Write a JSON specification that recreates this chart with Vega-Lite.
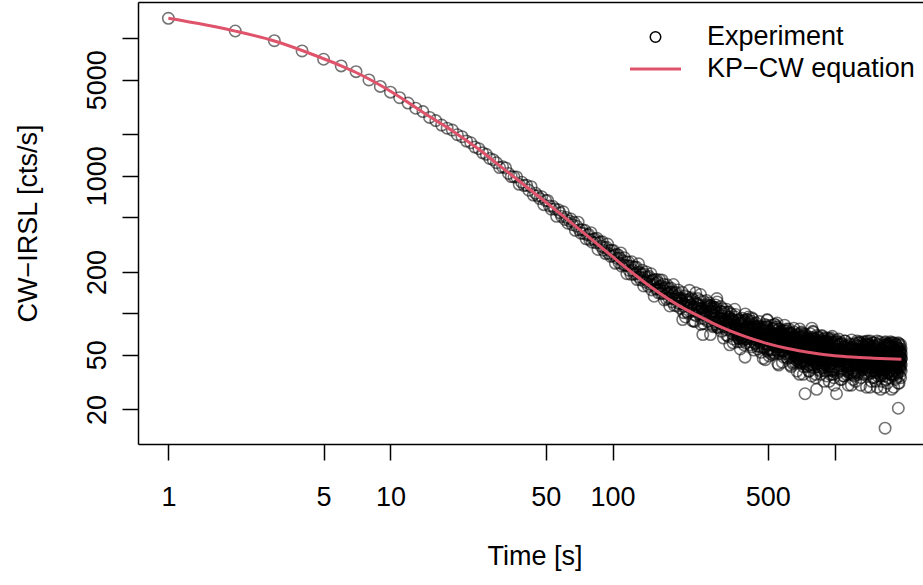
{
"$schema": "https://vega.github.io/schema/vega-lite/v6.json",
"width": 785, "height": 442,
"autosize": {"type": "none"},
"padding": {"left": 138, "top": 2, "right": 0, "bottom": 141},
"background": "white",
"config": {
  "view": {"stroke": null},
  "font": "Liberation Sans",
  "axis": {"grid": false, "labelFont": "Liberation Sans", "titleFont": "Liberation Sans", "labelFontSize": 27, "titleFontSize": 27, "titleFontWeight": "normal", "labelColor": "#000000", "titleColor": "#000000", "domainColor": "#000000", "tickColor": "#000000", "domainWidth": 1.5, "tickWidth": 1.5, "tickSize": 16, "labelOverlap": false, "labelFlush": false}
},
"datasets": {
"fit": [{"t":1,"v":13970},{"t":2,"v":11280},{"t":3,"v":9550},{"t":4,"v":8150},{"t":5,"v":7100},{"t":6,"v":6300},{"t":7,"v":5640},{"t":8,"v":5060},{"t":9,"v":4560},{"t":10,"v":4120},{"t":12,"v":3420},{"t":14,"v":2900},{"t":16,"v":2530},{"t":18,"v":2250},{"t":20,"v":2009},{"t":25,"v":1560},{"t":30,"v":1236},{"t":35,"v":1016},{"t":40,"v":858},{"t":50,"v":645},{"t":60,"v":509},{"t":70,"v":415},{"t":80,"v":348},{"t":100,"v":258},{"t":120,"v":203},{"t":150,"v":154},{"t":200,"v":113.3},{"t":250,"v":93.8},{"t":300,"v":81},{"t":400,"v":67.4},{"t":500,"v":60.2},{"t":600,"v":55.9},{"t":700,"v":53.2},{"t":800,"v":51.5},{"t":1000,"v":49.2},{"t":1200,"v":48.1},{"t":1500,"v":47.2},{"t":2000,"v":46.3}],
"experiment": [
{"t":1,"v":13970},{"t":2,"v":11300},{"t":3,"v":9610},{"t":4,"v":8090},{"t":5,"v":7040},{"t":6,"v":6300},{"t":7,"v":5720},{"t":8,"v":4980},{"t":9,"v":4470},{"t":10,"v":4060},
{"t":11,"v":3700},{"t":12,"v":3380},{"t":13,"v":3100},{"t":14,"v":2930},{"t":15,"v":2660},{"t":16,"v":2520},{"t":17,"v":2340},{"t":18,"v":2220},{"t":19,"v":2150},{"t":20,"v":1990},
{"t":21,"v":1925},{"t":22,"v":1790},{"t":23,"v":1740},{"t":24,"v":1618},{"t":25,"v":1575},{"t":26,"v":1470},{"t":27,"v":1432},{"t":28,"v":1336},{"t":29,"v":1310},
{"t":30,"v":1246},{"t":31,"v":1148},{"t":32,"v":1163},{"t":33,"v":1141},{"t":34,"v":1040},{"t":35,"v":987},{"t":36,"v":982},{"t":37,"v":981},{"t":38,"v":867},{"t":39,"v":899},
{"t":40,"v":849},{"t":41,"v":855},{"t":42,"v":785},{"t":43,"v":833},{"t":44,"v":724},{"t":45,"v":747},{"t":46,"v":715},{"t":47,"v":683},{"t":48,"v":704},{"t":49,"v":617},
{"t":50,"v":660},{"t":51,"v":662},{"t":52,"v":604},{"t":53,"v":572},{"t":54,"v":598},{"t":55,"v":574},{"t":56,"v":507},{"t":57,"v":566},{"t":58,"v":538},{"t":59,"v":506},
{"t":60,"v":547},{"t":61,"v":481},{"t":62,"v":498},{"t":63,"v":452},{"t":64,"v":469},{"t":65,"v":485},{"t":66,"v":441},{"t":67,"v":459},{"t":68,"v":401},{"t":69,"v":430},
{"t":70,"v":460},{"t":71,"v":405},{"t":72,"v":382},{"t":73,"v":405},{"t":74,"v":381},{"t":75,"v":401},{"t":76,"v":348},{"t":77,"v":371},{"t":78,"v":375},{"t":79,"v":342},
{"t":80,"v":386},{"t":81,"v":329},{"t":82,"v":345},{"t":83,"v":349},{"t":84,"v":326},{"t":85,"v":352},{"t":86,"v":291},{"t":87,"v":325},{"t":88,"v":331},{"t":89,"v":307},
{"t":90,"v":331},{"t":91,"v":288},{"t":92,"v":300},{"t":93,"v":272},{"t":94,"v":302},{"t":95,"v":319},{"t":96,"v":273},{"t":97,"v":286},{"t":98,"v":259},{"t":99,"v":288},
{"t":100,"v":261},{"t":101,"v":286},{"t":102,"v":265},{"t":103,"v":231},{"t":104,"v":269},{"t":105,"v":251},{"t":106,"v":266},{"t":107,"v":233},{"t":108,"v":252},{"t":109,"v":275},
{"t":110,"v":220},{"t":111,"v":241},{"t":112,"v":225},{"t":113,"v":254},{"t":114,"v":224},{"t":115,"v":237},{"t":116,"v":194},{"t":117,"v":222},{"t":118,"v":236},{"t":119,"v":205},
{"t":120,"v":221},{"t":121,"v":192},{"t":122,"v":237},{"t":123,"v":206},{"t":124,"v":217},{"t":125,"v":192},{"t":126,"v":217},{"t":127,"v":195},{"t":128,"v":217},{"t":129,"v":176},
{"t":130,"v":198},{"t":131,"v":229},{"t":132,"v":183},{"t":133,"v":198},{"t":134,"v":175},{"t":135,"v":192},{"t":136,"v":206},{"t":137,"v":180},{"t":138,"v":158},{"t":139,"v":193},
{"t":140,"v":184},{"t":141,"v":168},{"t":142,"v":200},{"t":143,"v":173},{"t":144,"v":183},{"t":145,"v":157},{"t":146,"v":186},{"t":147,"v":171},{"t":148,"v":162},{"t":149,"v":194},
{"t":150,"v":148},{"t":151,"v":172},{"t":152,"v":175},{"t":153,"v":161},{"t":154,"v":133},{"t":155,"v":176},{"t":156,"v":165},{"t":157,"v":150},{"t":158,"v":176},{"t":159,"v":152},
{"t":160,"v":168},{"t":161,"v":141},{"t":162,"v":156},{"t":163,"v":175},{"t":164,"v":148},{"t":165,"v":158},{"t":166,"v":139},{"t":167,"v":175},{"t":168,"v":140},{"t":169,"v":151},
{"t":170,"v":163},{"t":171,"v":125},{"t":172,"v":153},{"t":173,"v":144},{"t":174,"v":155},{"t":175,"v":127},{"t":176,"v":161},{"t":177,"v":138},{"t":178,"v":141},{"t":179,"v":129},
{"t":180,"v":151},{"t":181,"v":113},{"t":182,"v":142},{"t":183,"v":153},{"t":184,"v":129},{"t":185,"v":143},{"t":186,"v":121},{"t":187,"v":137},{"t":188,"v":162},{"t":189,"v":127},
{"t":190,"v":114},{"t":191,"v":141},{"t":192,"v":131},{"t":193,"v":127},{"t":194,"v":142},{"t":195,"v":113},{"t":196,"v":134},{"t":197,"v":148},{"t":198,"v":118},{"t":199,"v":129},
{"t":200,"v":129},{"t":202,"v":109},{"t":204,"v":123},{"t":206,"v":142},{"t":208,"v":117},{"t":210,"v":112},{"t":212,"v":134},{"t":214,"v":125},{"t":216,"v":103},{"t":218,"v":131},
{"t":220,"v":120},{"t":222,"v":147},{"t":224,"v":111},{"t":226,"v":115},{"t":228,"v":105},{"t":230,"v":126},{"t":232,"v":88},{"t":234,"v":111},{"t":236,"v":120},{"t":238,"v":96},
{"t":240,"v":116},{"t":242,"v":128},{"t":244,"v":108},{"t":246,"v":103},{"t":248,"v":124},{"t":250,"v":83},{"t":252,"v":104},{"t":254,"v":109},{"t":256,"v":98},{"t":258,"v":122},
{"t":260,"v":91},{"t":262,"v":105},{"t":264,"v":95},{"t":266,"v":112},{"t":268,"v":87},{"t":270,"v":108},{"t":272,"v":115},{"t":274,"v":101},{"t":276,"v":70},{"t":278,"v":103},
{"t":280,"v":99},{"t":282,"v":82},{"t":284,"v":111},{"t":286,"v":90},{"t":288,"v":96},{"t":290,"v":86},{"t":292,"v":110},{"t":294,"v":93},{"t":296,"v":121},{"t":298,"v":79},
{"t":300,"v":100},{"t":302,"v":81},{"t":304,"v":86},{"t":306,"v":103},{"t":308,"v":92},{"t":310,"v":74},{"t":312,"v":96},{"t":314,"v":87},{"t":316,"v":66},{"t":318,"v":99},
{"t":320,"v":80},{"t":322,"v":89},{"t":324,"v":76},{"t":326,"v":107},{"t":328,"v":83},{"t":330,"v":92},{"t":332,"v":68},{"t":334,"v":87},{"t":336,"v":94},{"t":338,"v":75},
{"t":340,"v":78},{"t":342,"v":99},{"t":344,"v":83},{"t":346,"v":71},{"t":348,"v":87},{"t":350,"v":65},{"t":352,"v":83},{"t":354,"v":87},{"t":356,"v":77},{"t":358,"v":98},
{"t":360,"v":70},{"t":362,"v":82},{"t":364,"v":73},{"t":366,"v":88},{"t":368,"v":66},{"t":370,"v":84},{"t":372,"v":90},{"t":374,"v":77},{"t":376,"v":55},{"t":378,"v":85},
{"t":380,"v":81},{"t":382,"v":66},{"t":384,"v":92},{"t":386,"v":72},{"t":388,"v":77},{"t":390,"v":68},{"t":392,"v":89},{"t":394,"v":74},{"t":396,"v":99},{"t":398,"v":61},
{"t":400,"v":65},{"t":402,"v":90},{"t":404,"v":67},{"t":406,"v":77},{"t":408,"v":81},{"t":410,"v":94},{"t":412,"v":78},{"t":414,"v":86},{"t":416,"v":74},{"t":418,"v":62},
{"t":420,"v":88},{"t":422,"v":67},{"t":424,"v":57},{"t":426,"v":79},{"t":428,"v":91},{"t":430,"v":76},{"t":432,"v":82},{"t":434,"v":78},{"t":436,"v":72},{"t":438,"v":80},
{"t":440,"v":61},{"t":442,"v":68},{"t":444,"v":65},{"t":446,"v":71},{"t":448,"v":58},{"t":450,"v":77},{"t":452,"v":72},{"t":454,"v":67},{"t":456,"v":80},{"t":458,"v":57},
{"t":460,"v":69},{"t":462,"v":62},{"t":464,"v":65},{"t":466,"v":52},{"t":468,"v":77},{"t":470,"v":74},{"t":472,"v":67},{"t":474,"v":79},{"t":476,"v":71},{"t":478,"v":66},
{"t":480,"v":60},{"t":482,"v":63},{"t":484,"v":56},{"t":486,"v":79},{"t":488,"v":46},{"t":490,"v":71},{"t":492,"v":82},{"t":494,"v":68},{"t":496,"v":80},{"t":498,"v":89},
{"t":500,"v":54},{"t":502,"v":65},{"t":504,"v":59},{"t":506,"v":63},{"t":508,"v":56},{"t":510,"v":73},{"t":512,"v":65},{"t":514,"v":71},{"t":516,"v":74},{"t":518,"v":68},
{"t":520,"v":82},{"t":522,"v":71},{"t":524,"v":50},{"t":526,"v":59},{"t":528,"v":78},{"t":530,"v":54},{"t":532,"v":65},{"t":534,"v":76},{"t":536,"v":68},{"t":538,"v":83},
{"t":540,"v":71},{"t":542,"v":67},{"t":544,"v":57},{"t":546,"v":79},{"t":548,"v":54},{"t":550,"v":85},{"t":552,"v":75},{"t":554,"v":64},{"t":556,"v":77},{"t":558,"v":66},
{"t":560,"v":42},{"t":562,"v":73},{"t":564,"v":51},{"t":566,"v":57},{"t":568,"v":54},{"t":570,"v":59},{"t":572,"v":64},{"t":574,"v":72},{"t":576,"v":60},{"t":578,"v":66},
{"t":580,"v":69},{"t":582,"v":44},{"t":584,"v":57},{"t":586,"v":53},{"t":588,"v":60},{"t":590,"v":48},{"t":592,"v":70},{"t":594,"v":57},{"t":596,"v":61},{"t":598,"v":65},
{"t":600,"v":65},{"t":602,"v":51},{"t":604,"v":61},{"t":606,"v":74},{"t":608,"v":56},{"t":610,"v":53},{"t":612,"v":69},{"t":614,"v":62},{"t":616,"v":47},{"t":618,"v":66},
{"t":620,"v":58},{"t":622,"v":77},{"t":624,"v":52},{"t":626,"v":63},{"t":628,"v":55},{"t":630,"v":70},{"t":632,"v":42},{"t":634,"v":59},{"t":636,"v":66},{"t":638,"v":48},
{"t":640,"v":63},{"t":642,"v":71},{"t":644,"v":56},{"t":646,"v":52},{"t":648,"v":68},{"t":650,"v":44},{"t":652,"v":60},{"t":654,"v":63},{"t":656,"v":55},{"t":658,"v":73},
{"t":660,"v":50},{"t":662,"v":60},{"t":664,"v":53},{"t":666,"v":65},{"t":668,"v":46},{"t":670,"v":62},{"t":672,"v":67},{"t":674,"v":57},{"t":676,"v":38},{"t":678,"v":63},
{"t":680,"v":60},{"t":682,"v":47},{"t":684,"v":70},{"t":686,"v":53},{"t":688,"v":58},{"t":690,"v":50},{"t":692,"v":68},{"t":694,"v":55},{"t":696,"v":77},{"t":698,"v":44},
{"t":700,"v":47},{"t":702,"v":70},{"t":704,"v":49},{"t":706,"v":58},{"t":708,"v":62},{"t":710,"v":73},{"t":712,"v":59},{"t":714,"v":66},{"t":716,"v":56},{"t":718,"v":45},
{"t":720,"v":68},{"t":722,"v":50},{"t":724,"v":41},{"t":726,"v":61},{"t":728,"v":71},{"t":730,"v":58},{"t":732,"v":63},{"t":734,"v":60},{"t":736,"v":26},{"t":738,"v":61},
{"t":740,"v":45},{"t":742,"v":51},{"t":744,"v":48},{"t":746,"v":54},{"t":748,"v":43},{"t":750,"v":59},{"t":752,"v":56},{"t":754,"v":51},{"t":756,"v":63},{"t":758,"v":42},
{"t":760,"v":53},{"t":762,"v":47},{"t":764,"v":50},{"t":766,"v":38},{"t":768,"v":61},{"t":770,"v":58},{"t":772,"v":52},{"t":774,"v":63},{"t":776,"v":56},{"t":778,"v":51},
{"t":780,"v":46},{"t":782,"v":49},{"t":784,"v":43},{"t":786,"v":63},{"t":788,"v":35},{"t":790,"v":78},{"t":792,"v":66},{"t":794,"v":54},{"t":796,"v":65},{"t":798,"v":74},
{"t":800,"v":42},{"t":802,"v":73},{"t":804,"v":52},{"t":806,"v":64},{"t":808,"v":47},{"t":810,"v":54},{"t":812,"v":50},{"t":814,"v":65},{"t":816,"v":44},{"t":818,"v":56},
{"t":820,"v":59},{"t":822,"v":34},{"t":824,"v":52},{"t":826,"v":62},{"t":828,"v":57},{"t":830,"v":28},{"t":832,"v":60},{"t":834,"v":48},{"t":836,"v":55},{"t":838,"v":45},
{"t":840,"v":67},{"t":842,"v":50},{"t":844,"v":58},{"t":846,"v":54},{"t":848,"v":39},{"t":850,"v":61},{"t":852,"v":47},{"t":854,"v":50},{"t":856,"v":64},{"t":858,"v":56},
{"t":860,"v":42},{"t":862,"v":59},{"t":864,"v":52},{"t":866,"v":36},{"t":868,"v":62},{"t":870,"v":48},{"t":872,"v":55},{"t":874,"v":45},{"t":876,"v":69},{"t":878,"v":51},
{"t":880,"v":58},{"t":882,"v":40},{"t":884,"v":54},{"t":886,"v":60},{"t":888,"v":45},{"t":890,"v":48},{"t":892,"v":65},{"t":894,"v":52},{"t":896,"v":43},{"t":898,"v":56},
{"t":900,"v":47},{"t":902,"v":60},{"t":904,"v":51},{"t":906,"v":38},{"t":908,"v":55},{"t":910,"v":58},{"t":912,"v":43},{"t":914,"v":49},{"t":916,"v":63},{"t":918,"v":45},
{"t":920,"v":52},{"t":922,"v":35},{"t":924,"v":58},{"t":926,"v":48},{"t":928,"v":55},{"t":930,"v":41},{"t":932,"v":66},{"t":934,"v":51},{"t":936,"v":44},{"t":938,"v":61},
{"t":940,"v":47},{"t":942,"v":39},{"t":944,"v":53},{"t":946,"v":56},{"t":948,"v":42},{"t":950,"v":64},{"t":952,"v":49},{"t":954,"v":45},{"t":956,"v":53},{"t":958,"v":36},
{"t":960,"v":58},{"t":962,"v":48},{"t":964,"v":55},{"t":966,"v":43},{"t":968,"v":61},{"t":970,"v":46},{"t":972,"v":41},{"t":974,"v":51},{"t":976,"v":68},{"t":978,"v":44},
{"t":980,"v":47},{"t":982,"v":59},{"t":984,"v":38},{"t":986,"v":53},{"t":988,"v":49},{"t":990,"v":56},{"t":992,"v":39},{"t":994,"v":51},{"t":996,"v":30},{"t":998,"v":61},
{"t":1000,"v":53},{"t":1004,"v":41},{"t":1008,"v":50},{"t":1012,"v":62},{"t":1016,"v":46},{"t":1020,"v":26},{"t":1024,"v":57},{"t":1028,"v":51},{"t":1032,"v":37},{"t":1036,"v":55},
{"t":1040,"v":48},{"t":1044,"v":65},{"t":1048,"v":42},{"t":1052,"v":52},{"t":1056,"v":45},{"t":1060,"v":59},{"t":1064,"v":33},{"t":1068,"v":49},{"t":1072,"v":55},{"t":1076,"v":39},
{"t":1080,"v":52},{"t":1084,"v":60},{"t":1088,"v":47},{"t":1092,"v":43},{"t":1096,"v":57},{"t":1100,"v":35},{"t":1104,"v":50},{"t":1108,"v":53},{"t":1112,"v":46},{"t":1116,"v":63},
{"t":1120,"v":41},{"t":1124,"v":51},{"t":1128,"v":44},{"t":1132,"v":56},{"t":1136,"v":38},{"t":1140,"v":53},{"t":1144,"v":58},{"t":1148,"v":48},{"t":1152,"v":30},{"t":1156,"v":54},
{"t":1160,"v":51},{"t":1164,"v":39},{"t":1168,"v":60},{"t":1172,"v":45},{"t":1176,"v":49},{"t":1180,"v":42},{"t":1184,"v":59},{"t":1188,"v":47},{"t":1192,"v":64},{"t":1196,"v":37},
{"t":1200,"v":44},{"t":1204,"v":56},{"t":1208,"v":47},{"t":1212,"v":36},{"t":1216,"v":51},{"t":1220,"v":54},{"t":1224,"v":40},{"t":1228,"v":46},{"t":1232,"v":60},{"t":1236,"v":42},
{"t":1240,"v":49},{"t":1244,"v":32},{"t":1248,"v":55},{"t":1252,"v":45},{"t":1256,"v":52},{"t":1260,"v":38},{"t":1264,"v":63},{"t":1268,"v":48},{"t":1272,"v":42},{"t":1276,"v":58},
{"t":1280,"v":44},{"t":1284,"v":37},{"t":1288,"v":50},{"t":1292,"v":53},{"t":1296,"v":40},{"t":1300,"v":61},{"t":1304,"v":46},{"t":1308,"v":43},{"t":1312,"v":51},{"t":1316,"v":34},
{"t":1320,"v":55},{"t":1324,"v":46},{"t":1328,"v":52},{"t":1332,"v":41},{"t":1336,"v":58},{"t":1340,"v":44},{"t":1344,"v":39},{"t":1348,"v":48},{"t":1352,"v":62},{"t":1356,"v":42},
{"t":1360,"v":45},{"t":1364,"v":57},{"t":1368,"v":36},{"t":1372,"v":51},{"t":1376,"v":47},{"t":1380,"v":54},{"t":1384,"v":37},{"t":1388,"v":49},{"t":1392,"v":29},{"t":1396,"v":59},
{"t":1400,"v":36},{"t":1404,"v":63},{"t":1408,"v":46},{"t":1412,"v":58},{"t":1416,"v":41},{"t":1420,"v":48},{"t":1424,"v":44},{"t":1428,"v":59},{"t":1432,"v":38},{"t":1436,"v":50},
{"t":1440,"v":53},{"t":1444,"v":29},{"t":1448,"v":47},{"t":1452,"v":56},{"t":1456,"v":51},{"t":1460,"v":37},{"t":1464,"v":54},{"t":1468,"v":42},{"t":1472,"v":49},{"t":1476,"v":40},
{"t":1480,"v":61},{"t":1484,"v":45},{"t":1488,"v":52},{"t":1492,"v":49},{"t":1496,"v":34},{"t":1500,"v":55},{"t":1504,"v":42},{"t":1508,"v":45},{"t":1512,"v":58},{"t":1516,"v":51},
{"t":1520,"v":38},{"t":1524,"v":53},{"t":1528,"v":47},{"t":1532,"v":32},{"t":1536,"v":57},{"t":1540,"v":43},{"t":1544,"v":50},{"t":1548,"v":40},{"t":1552,"v":63},{"t":1556,"v":46},
{"t":1560,"v":53},{"t":1564,"v":35},{"t":1568,"v":49},{"t":1572,"v":55},{"t":1576,"v":41},{"t":1580,"v":44},{"t":1584,"v":60},{"t":1588,"v":48},{"t":1592,"v":39},{"t":1596,"v":51},
{"t":1600,"v":51},{"t":1604,"v":47},{"t":1608,"v":43},{"t":1612,"v":54},{"t":1616,"v":35},{"t":1620,"v":45},{"t":1624,"v":40},{"t":1628,"v":43},{"t":1632,"v":32},{"t":1636,"v":53},
{"t":1640,"v":50},{"t":1644,"v":45},{"t":1648,"v":55},{"t":1652,"v":48},{"t":1656,"v":44},{"t":1660,"v":39},{"t":1664,"v":42},{"t":1668,"v":37},{"t":1672,"v":56},{"t":1676,"v":29},
{"t":1680,"v":50},{"t":1684,"v":58},{"t":1688,"v":14.6},{"t":1692,"v":57},{"t":1696,"v":62},{"t":1700,"v":39},{"t":1704,"v":59},{"t":1708,"v":41},{"t":1712,"v":49},{"t":1716,"v":52},
{"t":1720,"v":60},{"t":1724,"v":49},{"t":1728,"v":56},{"t":1732,"v":47},{"t":1736,"v":37},{"t":1740,"v":58},{"t":1744,"v":41},{"t":1748,"v":34},{"t":1752,"v":51},{"t":1756,"v":60},
{"t":1760,"v":49},{"t":1764,"v":53},{"t":1768,"v":51},{"t":1772,"v":46},{"t":1776,"v":52},{"t":1780,"v":38},{"t":1784,"v":43},{"t":1788,"v":40},{"t":1792,"v":45},{"t":1796,"v":36},
{"t":1800,"v":57},{"t":1804,"v":28},{"t":1808,"v":48},{"t":1812,"v":36},{"t":1816,"v":53},{"t":1820,"v":46},{"t":1824,"v":50},{"t":1828,"v":35},{"t":1832,"v":55},{"t":1836,"v":44},
{"t":1840,"v":41},{"t":1844,"v":61},{"t":1848,"v":47},{"t":1852,"v":38},{"t":1856,"v":42},{"t":1860,"v":57},{"t":1864,"v":40},{"t":1868,"v":51},{"t":1872,"v":44},{"t":1876,"v":54},
{"t":1880,"v":33},{"t":1884,"v":49},{"t":1888,"v":42},{"t":1892,"v":45},{"t":1896,"v":59},{"t":1900,"v":38},{"t":1904,"v":52},{"t":1908,"v":48},{"t":1912,"v":36},{"t":1916,"v":43},
{"t":1920,"v":56},{"t":1924,"v":40},{"t":1928,"v":46},{"t":1932,"v":61},{"t":1936,"v":20.4},{"t":1940,"v":51},{"t":1944,"v":44},{"t":1948,"v":53},{"t":1952,"v":31},{"t":1956,"v":48},
{"t":1960,"v":41},{"t":1964,"v":58},{"t":1968,"v":44},{"t":1972,"v":39},{"t":1976,"v":53},{"t":1980,"v":50},{"t":1984,"v":34},{"t":1988,"v":46},{"t":1992,"v":55},{"t":1996,"v":42},
{"t":2000,"v":47},
{"t":201,"v":125},{"t":203,"v":118},{"t":205,"v":127},{"t":207,"v":90},{"t":209,"v":101},{"t":211,"v":117},{"t":213,"v":94},{"t":215,"v":115},{"t":217,"v":125},{"t":219,"v":100},
{"t":221,"v":120},{"t":223,"v":127},{"t":225,"v":114},{"t":227,"v":130},{"t":229,"v":88},{"t":231,"v":111},{"t":233,"v":98},{"t":235,"v":87},{"t":237,"v":141},{"t":239,"v":102},
{"t":241,"v":110},{"t":243,"v":117},{"t":245,"v":99},{"t":247,"v":113},{"t":249,"v":137},{"t":251,"v":92},{"t":253,"v":109},{"t":255,"v":70},{"t":257,"v":84},{"t":259,"v":102},
{"t":261,"v":98},{"t":263,"v":109},{"t":265,"v":124},{"t":267,"v":115},{"t":269,"v":111},{"t":271,"v":88},{"t":273,"v":119},{"t":275,"v":113},{"t":277,"v":114},{"t":279,"v":109},
{"t":281,"v":103},{"t":283,"v":80},{"t":285,"v":107},{"t":287,"v":110},{"t":289,"v":104},{"t":291,"v":115},{"t":293,"v":83},{"t":295,"v":128},{"t":297,"v":79},{"t":299,"v":88},
{"t":301,"v":86},{"t":303,"v":91},{"t":305,"v":84},{"t":307,"v":112},{"t":309,"v":103},{"t":311,"v":91},{"t":313,"v":108},{"t":315,"v":91},{"t":317,"v":84},{"t":319,"v":102},
{"t":321,"v":87},{"t":323,"v":82},{"t":325,"v":91},{"t":327,"v":69},{"t":329,"v":102},{"t":331,"v":84},{"t":333,"v":94},{"t":335,"v":102},{"t":337,"v":59},{"t":339,"v":90},
{"t":341,"v":83},{"t":343,"v":78},{"t":345,"v":91},{"t":347,"v":80},{"t":349,"v":61},{"t":351,"v":89},{"t":353,"v":75},{"t":355,"v":107},{"t":357,"v":94},{"t":359,"v":79},
{"t":361,"v":82},{"t":363,"v":74},{"t":365,"v":62},{"t":367,"v":68},{"t":369,"v":71},{"t":371,"v":89},{"t":373,"v":65},{"t":375,"v":69},{"t":377,"v":62},{"t":379,"v":66},
{"t":381,"v":70},{"t":383,"v":88},{"t":385,"v":67},{"t":387,"v":64},{"t":389,"v":68},{"t":391,"v":59},{"t":393,"v":85},{"t":395,"v":48},{"t":397,"v":87},{"t":399,"v":80},
{"t":401,"v":80},{"t":403,"v":65},{"t":405,"v":76},{"t":407,"v":90},{"t":409,"v":70},{"t":411,"v":66},{"t":413,"v":83},{"t":415,"v":76},{"t":417,"v":59},{"t":419,"v":80},
{"t":421,"v":72},{"t":423,"v":93},{"t":425,"v":65},{"t":427,"v":76},{"t":429,"v":68},{"t":431,"v":84},{"t":433,"v":54},{"t":435,"v":72},{"t":437,"v":80},{"t":439,"v":60},
{"t":441,"v":76},{"t":443,"v":85},{"t":445,"v":69},{"t":447,"v":64},{"t":449,"v":81},{"t":451,"v":55},{"t":453,"v":72},{"t":455,"v":77},{"t":457,"v":67},{"t":459,"v":87},
{"t":461,"v":61},{"t":463,"v":72},{"t":465,"v":64},{"t":467,"v":78},{"t":469,"v":57},{"t":471,"v":74},{"t":473,"v":80},{"t":475,"v":68},{"t":477,"v":47},{"t":479,"v":75},
{"t":481,"v":72},{"t":483,"v":57},{"t":485,"v":83},{"t":487,"v":64},{"t":489,"v":69},{"t":491,"v":60},{"t":493,"v":80},{"t":495,"v":66},{"t":497,"v":90},{"t":499,"v":53},
{"t":501,"v":69},{"t":503,"v":65},{"t":505,"v":70},{"t":507,"v":49},{"t":509,"v":55},{"t":511,"v":64},{"t":513,"v":51},{"t":515,"v":63},{"t":517,"v":68},{"t":519,"v":54},
{"t":521,"v":65},{"t":523,"v":69},{"t":525,"v":61},{"t":527,"v":77},{"t":529,"v":52},{"t":531,"v":66},{"t":533,"v":58},{"t":535,"v":51},{"t":537,"v":83},{"t":539,"v":60},
{"t":541,"v":64},{"t":543,"v":68},{"t":545,"v":58},{"t":547,"v":66},{"t":549,"v":80},{"t":551,"v":58},{"t":553,"v":68},{"t":555,"v":43},{"t":557,"v":53},{"t":559,"v":64},
{"t":561,"v":61},{"t":563,"v":68},{"t":565,"v":77},{"t":567,"v":71},{"t":569,"v":69},{"t":571,"v":54},{"t":573,"v":73},{"t":575,"v":69},{"t":577,"v":75},{"t":579,"v":71},
{"t":581,"v":67},{"t":583,"v":53},{"t":585,"v":69},{"t":587,"v":72},{"t":589,"v":68},{"t":591,"v":75},{"t":593,"v":54},{"t":595,"v":82},{"t":597,"v":51},{"t":599,"v":56},
{"t":601,"v":58},{"t":603,"v":62},{"t":605,"v":57},{"t":607,"v":77},{"t":609,"v":71},{"t":611,"v":62},{"t":613,"v":75},{"t":615,"v":63},{"t":617,"v":58},{"t":619,"v":71},
{"t":621,"v":60},{"t":623,"v":57},{"t":625,"v":63},{"t":627,"v":48},{"t":629,"v":72},{"t":631,"v":59},{"t":633,"v":66},{"t":635,"v":72},{"t":637,"v":41},{"t":639,"v":64},
{"t":641,"v":59},{"t":643,"v":55},{"t":645,"v":65},{"t":647,"v":57},{"t":649,"v":43},{"t":651,"v":64},{"t":653,"v":54},{"t":655,"v":78},{"t":657,"v":68},{"t":659,"v":57},
{"t":661,"v":60},{"t":663,"v":53},{"t":665,"v":44},{"t":667,"v":49},{"t":669,"v":52},{"t":671,"v":65},{"t":673,"v":47},{"t":675,"v":51},{"t":677,"v":45},{"t":679,"v":48},
{"t":681,"v":52},{"t":683,"v":66},{"t":685,"v":49},{"t":687,"v":47},{"t":689,"v":51},{"t":691,"v":44},{"t":693,"v":64},{"t":695,"v":36},{"t":697,"v":66},{"t":699,"v":61},
{"t":701,"v":44},{"t":703,"v":72},{"t":705,"v":55},{"t":707,"v":67},{"t":709,"v":49},{"t":711,"v":57},{"t":713,"v":52},{"t":715,"v":68},{"t":717,"v":46},{"t":719,"v":59},
{"t":721,"v":62},{"t":723,"v":36},{"t":725,"v":55},{"t":727,"v":65},{"t":729,"v":60},{"t":731,"v":44},{"t":733,"v":63},{"t":735,"v":50},{"t":737,"v":57},{"t":739,"v":47},
{"t":741,"v":70},{"t":743,"v":52},{"t":745,"v":60},{"t":747,"v":56},{"t":749,"v":41},{"t":751,"v":64},{"t":753,"v":49},{"t":755,"v":53},{"t":757,"v":67},{"t":759,"v":58},
{"t":761,"v":44},{"t":763,"v":61},{"t":765,"v":54},{"t":767,"v":38},{"t":769,"v":65},{"t":771,"v":50},{"t":773,"v":57},{"t":775,"v":47},{"t":777,"v":71},{"t":779,"v":53},
{"t":781,"v":60},{"t":783,"v":41},{"t":785,"v":56},{"t":787,"v":62},{"t":789,"v":47},{"t":791,"v":50},{"t":793,"v":67},{"t":795,"v":54},{"t":797,"v":45},{"t":799,"v":58},
{"t":801,"v":49},{"t":803,"v":62},{"t":805,"v":53},{"t":807,"v":40},{"t":809,"v":57},{"t":811,"v":60},{"t":813,"v":45},{"t":815,"v":51},{"t":817,"v":65},{"t":819,"v":47},
{"t":821,"v":55},{"t":823,"v":36},{"t":825,"v":60},{"t":827,"v":50},{"t":829,"v":57},{"t":831,"v":43},{"t":833,"v":69},{"t":835,"v":53},{"t":837,"v":46},{"t":839,"v":63},
{"t":841,"v":49},{"t":843,"v":41},{"t":845,"v":55},{"t":847,"v":58},{"t":849,"v":44},{"t":851,"v":66},{"t":853,"v":51},{"t":855,"v":47},{"t":857,"v":55},{"t":859,"v":38},
{"t":861,"v":60},{"t":863,"v":50},{"t":865,"v":57},{"t":867,"v":45},{"t":869,"v":63},{"t":871,"v":48},{"t":873,"v":43},{"t":875,"v":53},{"t":877,"v":68},{"t":879,"v":46},
{"t":881,"v":49},{"t":883,"v":61},{"t":885,"v":40},{"t":887,"v":55},{"t":889,"v":51},{"t":891,"v":58},{"t":893,"v":41},{"t":895,"v":53},{"t":897,"v":32},{"t":899,"v":63},
{"t":901,"v":48},{"t":903,"v":43},{"t":905,"v":66},{"t":907,"v":45},{"t":909,"v":63},{"t":911,"v":57},{"t":913,"v":60},{"t":915,"v":58},{"t":917,"v":43},{"t":919,"v":56},
{"t":921,"v":59},{"t":923,"v":62},{"t":925,"v":57},{"t":927,"v":61},{"t":929,"v":44},{"t":931,"v":56},{"t":933,"v":59},{"t":935,"v":63},{"t":937,"v":55},{"t":939,"v":49},
{"t":941,"v":51},{"t":943,"v":41},{"t":945,"v":32},{"t":947,"v":55},{"t":949,"v":45},{"t":951,"v":65},{"t":953,"v":52},{"t":955,"v":45},{"t":957,"v":54},{"t":959,"v":50},
{"t":961,"v":46},{"t":963,"v":66},{"t":965,"v":38},{"t":967,"v":44},{"t":969,"v":51},{"t":971,"v":39},{"t":973,"v":61},{"t":975,"v":46},{"t":977,"v":53},{"t":979,"v":49},
{"t":981,"v":39},{"t":983,"v":52},{"t":985,"v":47},{"t":987,"v":36},{"t":989,"v":48},{"t":991,"v":40},{"t":993,"v":34},{"t":995,"v":53},{"t":997,"v":48},{"t":999,"v":52},
{"t":1002,"v":47},{"t":1006,"v":50},{"t":1010,"v":46},{"t":1014,"v":64},{"t":1018,"v":58},{"t":1022,"v":51},{"t":1026,"v":62},{"t":1030,"v":51},{"t":1034,"v":47},{"t":1038,"v":59},
{"t":1042,"v":49},{"t":1046,"v":46},{"t":1050,"v":52},{"t":1054,"v":38},{"t":1058,"v":60},{"t":1062,"v":48},{"t":1066,"v":55},{"t":1070,"v":61},{"t":1074,"v":33},{"t":1078,"v":53},
{"t":1082,"v":49},{"t":1086,"v":45},{"t":1090,"v":54},{"t":1094,"v":47},{"t":1098,"v":35},{"t":1102,"v":54},{"t":1106,"v":44},{"t":1110,"v":63},{"t":1114,"v":58},{"t":1118,"v":48},
{"t":1122,"v":50},{"t":1126,"v":44},{"t":1130,"v":36},{"t":1134,"v":41},{"t":1138,"v":43},{"t":1142,"v":56},{"t":1146,"v":39},{"t":1150,"v":42},{"t":1154,"v":37},{"t":1158,"v":40},
{"t":1162,"v":44},{"t":1166,"v":56},{"t":1170,"v":42},{"t":1174,"v":40},{"t":1178,"v":43},{"t":1182,"v":37},{"t":1186,"v":55},{"t":1190,"v":30},{"t":1194,"v":57},{"t":1198,"v":52},
{"t":1202,"v":50},{"t":1206,"v":46},{"t":1210,"v":51},{"t":1214,"v":33},{"t":1218,"v":38},{"t":1222,"v":46},{"t":1226,"v":35},{"t":1230,"v":45},{"t":1234,"v":50},{"t":1238,"v":37},
{"t":1242,"v":47},{"t":1246,"v":51},{"t":1250,"v":44},{"t":1254,"v":58},{"t":1258,"v":37},{"t":1262,"v":49},{"t":1266,"v":42},{"t":1270,"v":36},{"t":1274,"v":61},{"t":1278,"v":44},
{"t":1282,"v":48},{"t":1286,"v":51},{"t":1290,"v":42},{"t":1294,"v":49},{"t":1298,"v":62},{"t":1302,"v":43},{"t":1306,"v":52},{"t":1310,"v":30},{"t":1314,"v":39},{"t":1318,"v":49},
{"t":1322,"v":46},{"t":1326,"v":52},{"t":1330,"v":60},{"t":1334,"v":55},{"t":1338,"v":53},{"t":1342,"v":41},{"t":1346,"v":58},{"t":1350,"v":54},{"t":1354,"v":59},{"t":1358,"v":56},
{"t":1362,"v":53},{"t":1366,"v":40},{"t":1370,"v":55},{"t":1374,"v":57},{"t":1378,"v":53},{"t":1382,"v":60},{"t":1386,"v":42},{"t":1390,"v":62},{"t":1394,"v":40},{"t":1398,"v":44},
{"t":1402,"v":51},{"t":1406,"v":39},{"t":1410,"v":48},{"t":1414,"v":60},{"t":1418,"v":44},{"t":1422,"v":41},{"t":1426,"v":55},{"t":1430,"v":49},{"t":1434,"v":36},{"t":1438,"v":53},
{"t":1442,"v":46},{"t":1446,"v":63},{"t":1450,"v":40},{"t":1454,"v":50},{"t":1458,"v":43},{"t":1462,"v":57},{"t":1466,"v":32},{"t":1470,"v":47},{"t":1474,"v":53},{"t":1478,"v":38},
{"t":1482,"v":51},{"t":1486,"v":58},{"t":1490,"v":45},{"t":1494,"v":42},{"t":1498,"v":56},{"t":1502,"v":34},{"t":1506,"v":49},{"t":1510,"v":52},{"t":1514,"v":44},{"t":1518,"v":61},
{"t":1522,"v":40},{"t":1526,"v":49},{"t":1530,"v":42},{"t":1534,"v":54},{"t":1538,"v":37},{"t":1542,"v":51},{"t":1546,"v":56},{"t":1550,"v":47},{"t":1554,"v":29},{"t":1558,"v":53},
{"t":1562,"v":50},{"t":1566,"v":38},{"t":1570,"v":59},{"t":1574,"v":44},{"t":1578,"v":48},{"t":1582,"v":41},{"t":1586,"v":58},{"t":1590,"v":46},{"t":1594,"v":62},{"t":1598,"v":36},
{"t":1602,"v":50},{"t":1606,"v":55},{"t":1610,"v":28},{"t":1614,"v":53},{"t":1618,"v":35},{"t":1622,"v":41},{"t":1626,"v":38},{"t":1630,"v":40},{"t":1634,"v":54},{"t":1638,"v":42},
{"t":1642,"v":39},{"t":1646,"v":36},{"t":1650,"v":41},{"t":1654,"v":37},{"t":1658,"v":54},{"t":1662,"v":41},{"t":1666,"v":39},{"t":1670,"v":35},{"t":1674,"v":43},{"t":1678,"v":48},
{"t":1682,"v":46},{"t":1686,"v":56},{"t":1690,"v":61},{"t":1694,"v":43},{"t":1698,"v":52},{"t":1702,"v":33},{"t":1706,"v":45},{"t":1710,"v":52},{"t":1714,"v":43},{"t":1718,"v":47},
{"t":1722,"v":51},{"t":1726,"v":31},{"t":1730,"v":58},{"t":1734,"v":53},{"t":1738,"v":46},{"t":1742,"v":58},{"t":1746,"v":37},{"t":1750,"v":50},{"t":1754,"v":44},{"t":1758,"v":48},
{"t":1762,"v":57},{"t":1766,"v":45},{"t":1770,"v":50},{"t":1774,"v":60},{"t":1778,"v":49},{"t":1782,"v":56},{"t":1786,"v":62},{"t":1790,"v":44},{"t":1794,"v":48},{"t":1798,"v":45},
{"t":1802,"v":36},{"t":1806,"v":61},{"t":1810,"v":45},{"t":1814,"v":57},{"t":1818,"v":40},{"t":1822,"v":47},{"t":1826,"v":43},{"t":1830,"v":58},{"t":1834,"v":38},{"t":1838,"v":49},
{"t":1842,"v":52},{"t":1846,"v":29},{"t":1850,"v":46},{"t":1854,"v":55},{"t":1858,"v":51},{"t":1862,"v":36},{"t":1866,"v":53},{"t":1870,"v":42},{"t":1874,"v":48},{"t":1878,"v":39},
{"t":1882,"v":60},{"t":1886,"v":44},{"t":1890,"v":51},{"t":1894,"v":48},{"t":1898,"v":34},{"t":1902,"v":55},{"t":1906,"v":41},{"t":1910,"v":44},{"t":1914,"v":57},{"t":1918,"v":50},
{"t":1922,"v":37},{"t":1926,"v":53},{"t":1930,"v":46},{"t":1934,"v":31},{"t":1938,"v":56},{"t":1942,"v":42},{"t":1946,"v":49},{"t":1950,"v":40},{"t":1954,"v":60},{"t":1958,"v":45},
{"t":1962,"v":52},{"t":1966,"v":35},{"t":1970,"v":48},{"t":1974,"v":54},{"t":1978,"v":40},{"t":1982,"v":43},{"t":1986,"v":59},{"t":1990,"v":47},{"t":1994,"v":38},{"t":1998,"v":51}
]
},
"layer": [
{
  "data": {"name": "experiment"},
  "mark": {"type": "point", "filled": false, "color": "#000000", "size": 130, "strokeWidth": 1.6, "opacity": 1, "strokeOpacity": 0.55},
  "encoding": {
    "x": {"field": "t", "type": "quantitative",
      "scale": {"type": "log", "domain": [0.7297, 2501], "nice": false, "zero": false},
      "axis": {"orient": "bottom", "values": [1,5,10,50,100,500,1000], "format": "d", "labelExpr": "datum.value == 1000 ? '' : datum.label", "labelPadding": 24.4, "title": "Time [s]", "titleX": 396.5, "titleY": 112, "titleAlign": "center", "titleBaseline": "middle", "titleAngle": 0}},
    "y": {"field": "v", "type": "quantitative",
      "scale": {"type": "log", "domain": [11.207, 18365], "nice": false, "zero": false},
      "axis": {"orient": "left", "values": [20,50,100,200,500,1000,2000,5000,10000], "format": "d", "labelExpr": "indexof([20,50,200,1000,5000], datum.value) >= 0 ? datum.label : ''", "labelAngle": -90, "labelAlign": "center", "labelBaseline": "bottom", "labelPadding": 10.3, "title": "CW−IRSL [cts/s]", "titleX": -109.4, "titleY": 221, "titleAngle": -90, "titleAlign": "center", "titleBaseline": "middle"}},
    "shape": {"datum": "Experiment", "type": "nominal",
      "scale": {"domain": ["Experiment"], "range": ["circle"]},
      "legend": {"title": null, "orient": "none", "legendX": 504, "legendY": 21.5, "padding": 0, "labelOffset": 38, "labelFontSize": 27, "labelFont": "Liberation Sans", "labelColor": "#000000", "labelLimit": 0, "symbolSize": 110, "symbolStrokeWidth": 1.5, "symbolStrokeColor": "#000000", "symbolFillColor": "transparent", "symbolOpacity": 1, "symbolOffset": 0}}
  }
},
{
  "data": {"name": "fit"},
  "mark": {"type": "line", "strokeWidth": 3, "interpolate": "monotone"},
  "encoding": {
    "x": {"field": "t", "type": "quantitative",
      "scale": {"type": "log", "domain": [0.7297, 2501], "nice": false, "zero": false},
      "axis": {"orient": "top", "labels": false, "ticks": false, "title": null, "domain": true}},
    "y": {"field": "v", "type": "quantitative",
      "scale": {"type": "log", "domain": [11.207, 18365], "nice": false, "zero": false}},
    "color": {"datum": "KP−CW equation", "type": "nominal",
      "scale": {"domain": ["KP−CW equation"], "range": ["#DF536B"]},
      "legend": {"title": null, "orient": "none", "legendX": 490.5, "legendY": 40, "padding": 0, "labelOffset": 24.5, "labelFontSize": 27, "labelFont": "Liberation Sans", "labelColor": "#000000", "labelLimit": 0, "symbolType": "stroke", "symbolSize": 2601, "symbolStrokeWidth": 3, "symbolOffset": 0}}
  }
}
],
"resolve": {"axis": {"x": "independent"}}
}
